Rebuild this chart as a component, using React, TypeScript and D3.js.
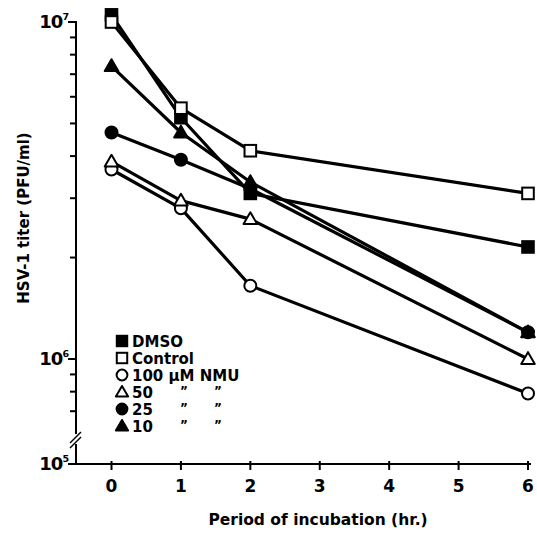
import React from "react";
import * as d3 from "d3";

// period of incubation (hr.)
const hours = [0, 1, 2, 6];
const xTicks = [0, 1, 2, 3, 4, 5, 6];

// HSV-1 titer (PFU/ml)
const dmso = [1.05e7, 5.2e6, 3.1e6, 2.15e6];
const control = [1.0e7, 5.55e6, 4.15e6, 3.1e6];
const nmu100 = [3.65e6, 2.8e6, 1.65e6, 7.9e5];
const nmu50 = [3.85e6, 2.95e6, 2.6e6, 1.0e6];
const nmu25 = [4.7e6, 3.9e6, 3.2e6, 1.2e6];
const nmu10 = [7.4e6, 4.7e6, 3.35e6, 1.2e6];

const majorTicks = [1e7, 1e6];
const minorTicks = [2e6, 3e6, 4e6, 5e6, 6e6, 7e6, 8e6, 9e6, 7e5, 8e5, 9e5];

const legendLabels = ["DMSO", "Control", "100 \u00b5M NMU", "50", "25", "10"];

const series = [
  { name: "DMSO", values: dmso, shape: "square", filled: true },
  { name: "Control", values: control, shape: "square", filled: false },
  { name: "100", values: nmu100, shape: "circle", filled: false },
  { name: "50", values: nmu50, shape: "triangle", filled: false },
  { name: "25", values: nmu25, shape: "circle", filled: true },
  { name: "10", values: nmu10, shape: "triangle", filled: true },
];

const font = "'DejaVu Sans', Verdana, sans-serif";

function Marker({ shape, filled, x, y, s = 1 }) {
  const fill = filled ? "#000" : "#fff";
  if (shape === "square") {
    const h = 5.8 * s;
    return <rect x={x - h} y={y - h} width={2 * h} height={2 * h} fill={fill} stroke="#000" strokeWidth={2} />;
  }
  if (shape === "circle") {
    return <circle cx={x} cy={y} r={6 * s} fill={fill} stroke="#000" strokeWidth={2} />;
  }
  const sym = d3.symbol().type(d3.symbolTriangle).size(80 * s * s)();
  return <path d={sym} transform={`translate(${x},${y + 1})`} fill={fill} stroke="#000" strokeWidth={2} strokeLinejoin="round" />;
}

export default function App() {
  const axisX = 76;
  const axisY = 464;

  const x = d3.scaleLinear().domain([0, 6]).range([111.5, 528]);
  const y = d3.scaleLog().domain([1e6, 1e7]).range([359, 22]);

  const line = d3
    .line<number>()
    .x((d, i) => x(hours[i]))
    .y((d) => y(d));

  return (
    <svg
      width={537}
      height={533}
      style={{ position: "fixed", left: 0, top: 0, background: "#fff" }}
      fontFamily={font}
      fontWeight="bold"
    >
      {/* y axis */}
      <line x1={axisX} x2={axisX} y1={y(1e7) - 1} y2={axisY} stroke="#000" strokeWidth={2} />
      {majorTicks.map((t) => (
        <g key={t}>
          <line x1={axisX - 8} x2={axisX} y1={y(t)} y2={y(t)} stroke="#000" strokeWidth={2} />
          <text x={axisX - 8} y={y(t) + 6} textAnchor="end" fontSize={18} letterSpacing={-1}>
            10
            <tspan dy={-8} fontSize={9.5}>{Math.round(Math.log10(t))}</tspan>
          </text>
        </g>
      ))}
      {minorTicks.map((t) => (
        <line key={t} x1={axisX - 6} x2={axisX} y1={y(t)} y2={y(t)} stroke="#000" strokeWidth={2} />
      ))}
      {/* axis break */}
      <rect x={axisX - 3} y={434} width={6} height={10} fill="#fff" />
      <line x1={axisX - 6} x2={axisX + 5} y1={443} y2={432} stroke="#000" strokeWidth={1.5} />
      <line x1={axisX - 6} x2={axisX + 5} y1={448} y2={437} stroke="#000" strokeWidth={1.5} />
      <line x1={axisX - 8} x2={axisX} y1={axisY} y2={axisY} stroke="#000" strokeWidth={2} />
      <text x={axisX - 8} y={axisY + 6} textAnchor="end" fontSize={18} letterSpacing={-1}>
        10
        <tspan dy={-8} fontSize={9.5}>5</tspan>
      </text>
      <text transform={`translate(29,${218}) rotate(-90)`} textAnchor="middle" fontSize={15}>
        HSV-1 titer (PFU/ml)
      </text>

      {/* x axis */}
      <line x1={axisX} x2={531} y1={axisY} y2={axisY} stroke="#000" strokeWidth={2} />
      {xTicks.map((t) => (
        <g key={t}>
          <line x1={x(t)} x2={x(t)} y1={axisY - 3} y2={axisY + 6} stroke="#000" strokeWidth={2} />
          <text x={x(t)} y={axisY + 28} textAnchor="middle" fontSize={17}>
            {t}
          </text>
        </g>
      ))}
      <text x={318} y={525} textAnchor="middle" fontSize={15.5}>
        Period of incubation (hr.)
      </text>

      {/* lines */}
      {series.map((s) => (
        <path key={s.name} d={line(s.values) ?? ""} fill="none" stroke="#000" strokeWidth={3.2} strokeLinejoin="round" />
      ))}
      {series.map((s) =>
        s.values.map((v, i) => (
          <Marker key={s.name + i} shape={s.shape} filled={s.filled} x={x(hours[i])} y={y(v)} />
        ))
      )}

      {/* legend */}
      {series.map((s, i) => {
        const ly = 341 + i * 17;
        return (
          <g key={"lg" + s.name}>
            <Marker shape={s.shape} filled={s.filled} x={122} y={ly} s={0.9} />
            <text x={132} y={ly + 5.5} fontSize={15}>
              {legendLabels[i]}
            </text>
            {i >= 3 && (
              <>
                <text x={180} y={ly + 3} fontSize={12}>{"\u201d"}</text>
                <text x={214} y={ly + 3} fontSize={12}>{"\u201d"}</text>
              </>
            )}
          </g>
        );
      })}
    </svg>
  );
}
